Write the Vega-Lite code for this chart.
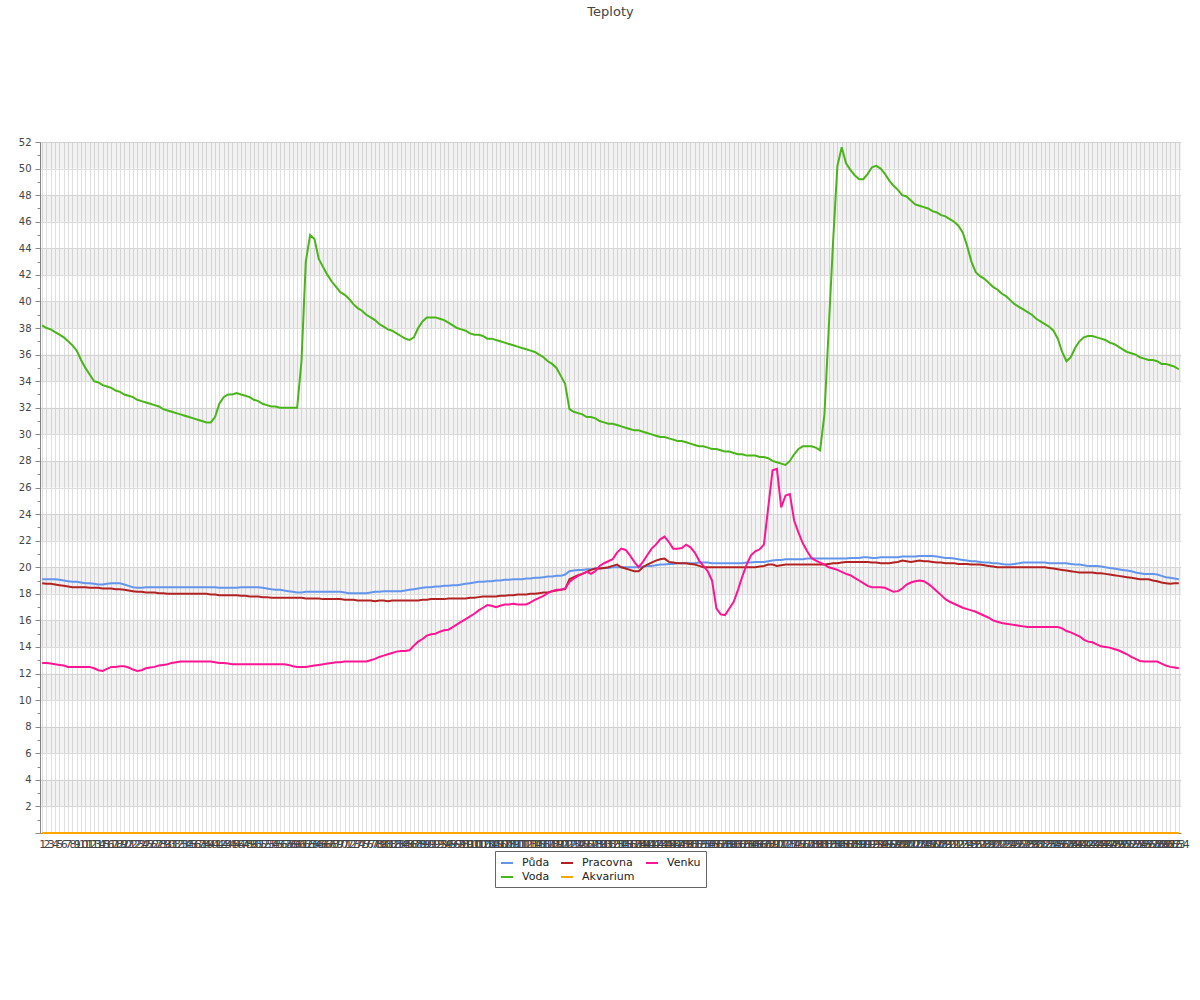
{
"$schema":"https://vega.github.io/schema/vega-lite/v6.json",
"width":1141,"height":691,
"autosize":{"type":"none"},
"padding":{"left":40,"top":142,"right":19,"bottom":167},
"background":"white",
"title":{"text":"Teploty","fontSize":13,"font":"DejaVu Sans","fontWeight":"normal","color":"#444444","offset":118,"anchor":"middle"},
"config":{"view":{"stroke":null},"font":"DejaVu Sans","axisY":{"labelOverlap":false},"axisX":{"labelOverlap":false}},
"datasets":{
"bands":[{"lo":2,"hi":4},{"lo":6,"hi":8},{"lo":10,"hi":12},{"lo":14,"hi":16},{"lo":18,"hi":20},{"lo":22,"hi":24},{"lo":26,"hi":28},{"lo":30,"hi":32},{"lo":34,"hi":36},{"lo":38,"hi":40},{"lo":42,"hi":44},{"lo":46,"hi":48},{"lo":50,"hi":52}],
"t":[
{"i":1,"Půda":19.1,"Voda":38.2,"Pracovna":18.8,"Venku":12.8,"Akvarium":0},
{"i":2,"Půda":19.1,"Voda":38.0,"Pracovna":18.75,"Venku":12.8,"Akvarium":0},
{"i":3,"Půda":19.1,"Voda":37.9,"Pracovna":18.75,"Venku":12.75,"Akvarium":0},
{"i":4,"Půda":19.1,"Voda":37.7,"Pracovna":18.7,"Venku":12.7,"Akvarium":0},
{"i":5,"Půda":19.05,"Voda":37.5,"Pracovna":18.65,"Venku":12.65,"Akvarium":0},
{"i":6,"Půda":19.0,"Voda":37.3,"Pracovna":18.6,"Venku":12.6,"Akvarium":0},
{"i":7,"Půda":18.95,"Voda":37.0,"Pracovna":18.55,"Venku":12.5,"Akvarium":0},
{"i":8,"Půda":18.9,"Voda":36.7,"Pracovna":18.5,"Venku":12.5,"Akvarium":0},
{"i":9,"Půda":18.9,"Voda":36.3,"Pracovna":18.5,"Venku":12.5,"Akvarium":0},
{"i":10,"Půda":18.85,"Voda":35.6,"Pracovna":18.5,"Venku":12.5,"Akvarium":0},
{"i":11,"Půda":18.8,"Voda":35.0,"Pracovna":18.5,"Venku":12.5,"Akvarium":0},
{"i":12,"Půda":18.8,"Voda":34.5,"Pracovna":18.45,"Venku":12.5,"Akvarium":0},
{"i":13,"Půda":18.75,"Voda":34.0,"Pracovna":18.45,"Venku":12.4,"Akvarium":0},
{"i":14,"Půda":18.7,"Voda":33.9,"Pracovna":18.45,"Venku":12.25,"Akvarium":0},
{"i":15,"Půda":18.7,"Voda":33.7,"Pracovna":18.4,"Venku":12.2,"Akvarium":0},
{"i":16,"Půda":18.75,"Voda":33.6,"Pracovna":18.4,"Venku":12.35,"Akvarium":0},
{"i":17,"Půda":18.8,"Voda":33.5,"Pracovna":18.4,"Venku":12.5,"Akvarium":0},
{"i":18,"Půda":18.8,"Voda":33.3,"Pracovna":18.35,"Venku":12.5,"Akvarium":0},
{"i":19,"Půda":18.8,"Voda":33.2,"Pracovna":18.35,"Venku":12.55,"Akvarium":0},
{"i":20,"Půda":18.7,"Voda":33.0,"Pracovna":18.3,"Venku":12.55,"Akvarium":0},
{"i":21,"Půda":18.6,"Voda":32.9,"Pracovna":18.25,"Venku":12.45,"Akvarium":0},
{"i":22,"Půda":18.5,"Voda":32.8,"Pracovna":18.2,"Venku":12.3,"Akvarium":0},
{"i":23,"Půda":18.45,"Voda":32.6,"Pracovna":18.15,"Venku":12.2,"Akvarium":0},
{"i":24,"Půda":18.45,"Voda":32.5,"Pracovna":18.15,"Venku":12.25,"Akvarium":0},
{"i":25,"Půda":18.5,"Voda":32.4,"Pracovna":18.1,"Venku":12.4,"Akvarium":0},
{"i":26,"Půda":18.5,"Voda":32.3,"Pracovna":18.1,"Venku":12.45,"Akvarium":0},
{"i":27,"Půda":18.5,"Voda":32.2,"Pracovna":18.1,"Venku":12.5,"Akvarium":0},
{"i":28,"Půda":18.5,"Voda":32.1,"Pracovna":18.05,"Venku":12.6,"Akvarium":0},
{"i":29,"Půda":18.5,"Voda":31.9,"Pracovna":18.05,"Venku":12.65,"Akvarium":0},
{"i":30,"Půda":18.5,"Voda":31.8,"Pracovna":18.0,"Venku":12.7,"Akvarium":0},
{"i":31,"Půda":18.5,"Voda":31.7,"Pracovna":18.0,"Venku":12.8,"Akvarium":0},
{"i":32,"Půda":18.5,"Voda":31.6,"Pracovna":18.0,"Venku":12.85,"Akvarium":0},
{"i":33,"Půda":18.5,"Voda":31.5,"Pracovna":18.0,"Venku":12.9,"Akvarium":0},
{"i":34,"Půda":18.5,"Voda":31.4,"Pracovna":18.0,"Venku":12.9,"Akvarium":0},
{"i":35,"Půda":18.5,"Voda":31.3,"Pracovna":18.0,"Venku":12.9,"Akvarium":0},
{"i":36,"Půda":18.5,"Voda":31.2,"Pracovna":18.0,"Venku":12.9,"Akvarium":0},
{"i":37,"Půda":18.5,"Voda":31.1,"Pracovna":18.0,"Venku":12.9,"Akvarium":0},
{"i":38,"Půda":18.5,"Voda":31.0,"Pracovna":18.0,"Venku":12.9,"Akvarium":0},
{"i":39,"Půda":18.5,"Voda":30.9,"Pracovna":18.0,"Venku":12.9,"Akvarium":0},
{"i":40,"Půda":18.5,"Voda":30.9,"Pracovna":17.95,"Venku":12.9,"Akvarium":0},
{"i":41,"Půda":18.5,"Voda":31.3,"Pracovna":17.95,"Venku":12.85,"Akvarium":0},
{"i":42,"Půda":18.45,"Voda":32.3,"Pracovna":17.9,"Venku":12.8,"Akvarium":0},
{"i":43,"Půda":18.45,"Voda":32.8,"Pracovna":17.9,"Venku":12.8,"Akvarium":0},
{"i":44,"Půda":18.45,"Voda":33.0,"Pracovna":17.9,"Venku":12.75,"Akvarium":0},
{"i":45,"Půda":18.45,"Voda":33.0,"Pracovna":17.9,"Venku":12.7,"Akvarium":0},
{"i":46,"Půda":18.45,"Voda":33.1,"Pracovna":17.9,"Venku":12.7,"Akvarium":0},
{"i":47,"Půda":18.5,"Voda":33.0,"Pracovna":17.85,"Venku":12.7,"Akvarium":0},
{"i":48,"Půda":18.5,"Voda":32.9,"Pracovna":17.85,"Venku":12.7,"Akvarium":0},
{"i":49,"Půda":18.5,"Voda":32.8,"Pracovna":17.8,"Venku":12.7,"Akvarium":0},
{"i":50,"Půda":18.5,"Voda":32.6,"Pracovna":17.8,"Venku":12.7,"Akvarium":0},
{"i":51,"Půda":18.5,"Voda":32.5,"Pracovna":17.8,"Venku":12.7,"Akvarium":0},
{"i":52,"Půda":18.45,"Voda":32.3,"Pracovna":17.75,"Venku":12.7,"Akvarium":0},
{"i":53,"Půda":18.4,"Voda":32.2,"Pracovna":17.75,"Venku":12.7,"Akvarium":0},
{"i":54,"Půda":18.35,"Voda":32.1,"Pracovna":17.7,"Venku":12.7,"Akvarium":0},
{"i":55,"Půda":18.3,"Voda":32.1,"Pracovna":17.7,"Venku":12.7,"Akvarium":0},
{"i":56,"Půda":18.3,"Voda":32.0,"Pracovna":17.7,"Venku":12.7,"Akvarium":0},
{"i":57,"Půda":18.25,"Voda":32.0,"Pracovna":17.7,"Venku":12.7,"Akvarium":0},
{"i":58,"Půda":18.2,"Voda":32.0,"Pracovna":17.7,"Venku":12.65,"Akvarium":0},
{"i":59,"Půda":18.15,"Voda":32.0,"Pracovna":17.7,"Venku":12.55,"Akvarium":0},
{"i":60,"Půda":18.1,"Voda":32.0,"Pracovna":17.7,"Venku":12.5,"Akvarium":0},
{"i":61,"Půda":18.1,"Voda":35.5,"Pracovna":17.7,"Venku":12.5,"Akvarium":0},
{"i":62,"Půda":18.15,"Voda":43.0,"Pracovna":17.65,"Venku":12.5,"Akvarium":0},
{"i":63,"Půda":18.15,"Voda":45.0,"Pracovna":17.65,"Venku":12.55,"Akvarium":0},
{"i":64,"Půda":18.15,"Voda":44.7,"Pracovna":17.65,"Venku":12.6,"Akvarium":0},
{"i":65,"Půda":18.15,"Voda":43.2,"Pracovna":17.65,"Venku":12.65,"Akvarium":0},
{"i":66,"Půda":18.15,"Voda":42.6,"Pracovna":17.6,"Venku":12.7,"Akvarium":0},
{"i":67,"Půda":18.15,"Voda":42.0,"Pracovna":17.6,"Venku":12.75,"Akvarium":0},
{"i":68,"Půda":18.15,"Voda":41.5,"Pracovna":17.6,"Venku":12.8,"Akvarium":0},
{"i":69,"Půda":18.15,"Voda":41.1,"Pracovna":17.6,"Venku":12.85,"Akvarium":0},
{"i":70,"Půda":18.15,"Voda":40.7,"Pracovna":17.6,"Venku":12.85,"Akvarium":0},
{"i":71,"Půda":18.1,"Voda":40.5,"Pracovna":17.55,"Venku":12.9,"Akvarium":0},
{"i":72,"Půda":18.05,"Voda":40.2,"Pracovna":17.55,"Venku":12.9,"Akvarium":0},
{"i":73,"Půda":18.05,"Voda":39.8,"Pracovna":17.55,"Venku":12.9,"Akvarium":0},
{"i":74,"Půda":18.05,"Voda":39.5,"Pracovna":17.5,"Venku":12.9,"Akvarium":0},
{"i":75,"Půda":18.05,"Voda":39.3,"Pracovna":17.5,"Venku":12.9,"Akvarium":0},
{"i":76,"Půda":18.05,"Voda":39.0,"Pracovna":17.5,"Venku":12.9,"Akvarium":0},
{"i":77,"Půda":18.1,"Voda":38.8,"Pracovna":17.5,"Venku":13.0,"Akvarium":0},
{"i":78,"Půda":18.15,"Voda":38.6,"Pracovna":17.45,"Venku":13.1,"Akvarium":0},
{"i":79,"Půda":18.15,"Voda":38.3,"Pracovna":17.5,"Venku":13.25,"Akvarium":0},
{"i":80,"Půda":18.2,"Voda":38.1,"Pracovna":17.5,"Venku":13.35,"Akvarium":0},
{"i":81,"Půda":18.2,"Voda":37.9,"Pracovna":17.45,"Venku":13.45,"Akvarium":0},
{"i":82,"Půda":18.2,"Voda":37.8,"Pracovna":17.5,"Venku":13.55,"Akvarium":0},
{"i":83,"Půda":18.2,"Voda":37.6,"Pracovna":17.5,"Venku":13.65,"Akvarium":0},
{"i":84,"Půda":18.2,"Voda":37.4,"Pracovna":17.5,"Venku":13.7,"Akvarium":0},
{"i":85,"Půda":18.25,"Voda":37.2,"Pracovna":17.5,"Venku":13.7,"Akvarium":0},
{"i":86,"Půda":18.3,"Voda":37.1,"Pracovna":17.5,"Venku":13.75,"Akvarium":0},
{"i":87,"Půda":18.35,"Voda":37.3,"Pracovna":17.5,"Venku":14.1,"Akvarium":0},
{"i":88,"Půda":18.4,"Voda":38.0,"Pracovna":17.5,"Venku":14.4,"Akvarium":0},
{"i":89,"Půda":18.45,"Voda":38.5,"Pracovna":17.55,"Venku":14.6,"Akvarium":0},
{"i":90,"Půda":18.5,"Voda":38.8,"Pracovna":17.55,"Venku":14.85,"Akvarium":0},
{"i":91,"Půda":18.5,"Voda":38.8,"Pracovna":17.6,"Venku":14.95,"Akvarium":0},
{"i":92,"Půda":18.55,"Voda":38.8,"Pracovna":17.6,"Venku":15.0,"Akvarium":0},
{"i":93,"Půda":18.55,"Voda":38.7,"Pracovna":17.6,"Venku":15.15,"Akvarium":0},
{"i":94,"Půda":18.6,"Voda":38.6,"Pracovna":17.6,"Venku":15.25,"Akvarium":0},
{"i":95,"Půda":18.6,"Voda":38.4,"Pracovna":17.65,"Venku":15.3,"Akvarium":0},
{"i":96,"Půda":18.65,"Voda":38.2,"Pracovna":17.65,"Venku":15.5,"Akvarium":0},
{"i":97,"Půda":18.65,"Voda":38.0,"Pracovna":17.65,"Venku":15.7,"Akvarium":0},
{"i":98,"Půda":18.7,"Voda":37.9,"Pracovna":17.65,"Venku":15.9,"Akvarium":0},
{"i":99,"Půda":18.75,"Voda":37.8,"Pracovna":17.65,"Venku":16.1,"Akvarium":0},
{"i":100,"Půda":18.8,"Voda":37.6,"Pracovna":17.7,"Venku":16.3,"Akvarium":0},
{"i":101,"Půda":18.85,"Voda":37.5,"Pracovna":17.7,"Venku":16.5,"Akvarium":0},
{"i":102,"Půda":18.9,"Voda":37.5,"Pracovna":17.75,"Venku":16.75,"Akvarium":0},
{"i":103,"Půda":18.9,"Voda":37.4,"Pracovna":17.8,"Venku":16.95,"Akvarium":0},
{"i":104,"Půda":18.95,"Voda":37.2,"Pracovna":17.8,"Venku":17.15,"Akvarium":0},
{"i":105,"Půda":18.95,"Voda":37.2,"Pracovna":17.8,"Venku":17.1,"Akvarium":0},
{"i":106,"Půda":19.0,"Voda":37.1,"Pracovna":17.8,"Venku":17.0,"Akvarium":0},
{"i":107,"Půda":19.0,"Voda":37.0,"Pracovna":17.85,"Venku":17.1,"Akvarium":0},
{"i":108,"Půda":19.05,"Voda":36.9,"Pracovna":17.85,"Venku":17.2,"Akvarium":0},
{"i":109,"Půda":19.05,"Voda":36.8,"Pracovna":17.9,"Venku":17.2,"Akvarium":0},
{"i":110,"Půda":19.1,"Voda":36.7,"Pracovna":17.9,"Venku":17.25,"Akvarium":0},
{"i":111,"Půda":19.1,"Voda":36.6,"Pracovna":17.95,"Venku":17.2,"Akvarium":0},
{"i":112,"Půda":19.1,"Voda":36.5,"Pracovna":17.95,"Venku":17.2,"Akvarium":0},
{"i":113,"Půda":19.15,"Voda":36.4,"Pracovna":17.95,"Venku":17.2,"Akvarium":0},
{"i":114,"Půda":19.15,"Voda":36.3,"Pracovna":18.0,"Venku":17.35,"Akvarium":0},
{"i":115,"Půda":19.2,"Voda":36.2,"Pracovna":18.0,"Venku":17.55,"Akvarium":0},
{"i":116,"Půda":19.2,"Voda":36.0,"Pracovna":18.05,"Venku":17.7,"Akvarium":0},
{"i":117,"Půda":19.25,"Voda":35.8,"Pracovna":18.1,"Venku":17.85,"Akvarium":0},
{"i":118,"Půda":19.3,"Voda":35.5,"Pracovna":18.1,"Venku":18.05,"Akvarium":0},
{"i":119,"Půda":19.3,"Voda":35.3,"Pracovna":18.2,"Venku":18.2,"Akvarium":0},
{"i":120,"Půda":19.35,"Voda":35.0,"Pracovna":18.25,"Venku":18.3,"Akvarium":0},
{"i":121,"Půda":19.35,"Voda":34.4,"Pracovna":18.3,"Venku":18.3,"Akvarium":0},
{"i":122,"Půda":19.45,"Voda":33.8,"Pracovna":18.35,"Venku":18.4,"Akvarium":0},
{"i":123,"Půda":19.7,"Voda":31.9,"Pracovna":19.1,"Venku":18.9,"Akvarium":0},
{"i":124,"Půda":19.75,"Voda":31.7,"Pracovna":19.25,"Venku":19.15,"Akvarium":0},
{"i":125,"Půda":19.8,"Voda":31.6,"Pracovna":19.4,"Venku":19.35,"Akvarium":0},
{"i":126,"Půda":19.8,"Voda":31.5,"Pracovna":19.5,"Venku":19.5,"Akvarium":0},
{"i":127,"Půda":19.85,"Voda":31.3,"Pracovna":19.65,"Venku":19.65,"Akvarium":0},
{"i":128,"Půda":19.85,"Voda":31.3,"Pracovna":19.8,"Venku":19.5,"Akvarium":0},
{"i":129,"Půda":19.9,"Voda":31.2,"Pracovna":19.9,"Venku":19.7,"Akvarium":0},
{"i":130,"Půda":19.9,"Voda":31.0,"Pracovna":19.9,"Venku":20.1,"Akvarium":0},
{"i":131,"Půda":19.95,"Voda":30.9,"Pracovna":19.95,"Venku":20.3,"Akvarium":0},
{"i":132,"Půda":19.95,"Voda":30.8,"Pracovna":20.0,"Venku":20.45,"Akvarium":0},
{"i":133,"Půda":20.0,"Voda":30.8,"Pracovna":20.1,"Venku":20.6,"Akvarium":0},
{"i":134,"Půda":20.0,"Voda":30.7,"Pracovna":20.2,"Venku":21.1,"Akvarium":0},
{"i":135,"Půda":20.0,"Voda":30.6,"Pracovna":20.0,"Venku":21.4,"Akvarium":0},
{"i":136,"Půda":20.0,"Voda":30.5,"Pracovna":19.9,"Venku":21.3,"Akvarium":0},
{"i":137,"Půda":20.0,"Voda":30.4,"Pracovna":19.8,"Venku":20.9,"Akvarium":0},
{"i":138,"Půda":20.0,"Voda":30.3,"Pracovna":19.7,"Venku":20.4,"Akvarium":0},
{"i":139,"Půda":20.0,"Voda":30.3,"Pracovna":19.7,"Venku":20.0,"Akvarium":0},
{"i":140,"Půda":20.05,"Voda":30.2,"Pracovna":20.0,"Venku":20.4,"Akvarium":0},
{"i":141,"Půda":20.1,"Voda":30.1,"Pracovna":20.2,"Venku":20.9,"Akvarium":0},
{"i":142,"Půda":20.1,"Voda":30.0,"Pracovna":20.35,"Venku":21.4,"Akvarium":0},
{"i":143,"Půda":20.15,"Voda":29.9,"Pracovna":20.5,"Venku":21.7,"Akvarium":0},
{"i":144,"Půda":20.2,"Voda":29.8,"Pracovna":20.6,"Venku":22.1,"Akvarium":0},
{"i":145,"Půda":20.2,"Voda":29.8,"Pracovna":20.65,"Venku":22.3,"Akvarium":0},
{"i":146,"Půda":20.25,"Voda":29.7,"Pracovna":20.4,"Venku":21.9,"Akvarium":0},
{"i":147,"Půda":20.25,"Voda":29.6,"Pracovna":20.35,"Venku":21.4,"Akvarium":0},
{"i":148,"Půda":20.3,"Voda":29.5,"Pracovna":20.3,"Venku":21.4,"Akvarium":0},
{"i":149,"Půda":20.3,"Voda":29.5,"Pracovna":20.3,"Venku":21.45,"Akvarium":0},
{"i":150,"Půda":20.3,"Voda":29.4,"Pracovna":20.3,"Venku":21.7,"Akvarium":0},
{"i":151,"Půda":20.3,"Voda":29.3,"Pracovna":20.25,"Venku":21.5,"Akvarium":0},
{"i":152,"Půda":20.3,"Voda":29.2,"Pracovna":20.2,"Venku":21.1,"Akvarium":0},
{"i":153,"Půda":20.35,"Voda":29.1,"Pracovna":20.1,"Venku":20.5,"Akvarium":0},
{"i":154,"Půda":20.35,"Voda":29.1,"Pracovna":20.0,"Venku":20.1,"Akvarium":0},
{"i":155,"Půda":20.35,"Voda":29.0,"Pracovna":20.0,"Venku":19.7,"Akvarium":0},
{"i":156,"Půda":20.3,"Voda":28.9,"Pracovna":20.0,"Venku":19.0,"Akvarium":0},
{"i":157,"Půda":20.3,"Voda":28.9,"Pracovna":20.0,"Venku":16.9,"Akvarium":0},
{"i":158,"Půda":20.3,"Voda":28.8,"Pracovna":20.0,"Venku":16.45,"Akvarium":0},
{"i":159,"Půda":20.3,"Voda":28.7,"Pracovna":20.0,"Venku":16.4,"Akvarium":0},
{"i":160,"Půda":20.3,"Voda":28.7,"Pracovna":20.0,"Venku":16.9,"Akvarium":0},
{"i":161,"Půda":20.3,"Voda":28.6,"Pracovna":20.0,"Venku":17.4,"Akvarium":0},
{"i":162,"Půda":20.3,"Voda":28.5,"Pracovna":20.0,"Venku":18.3,"Akvarium":0},
{"i":163,"Půda":20.3,"Voda":28.5,"Pracovna":20.0,"Venku":19.3,"Akvarium":0},
{"i":164,"Půda":20.35,"Voda":28.4,"Pracovna":20.0,"Venku":20.2,"Akvarium":0},
{"i":165,"Půda":20.35,"Voda":28.4,"Pracovna":20.0,"Venku":20.9,"Akvarium":0},
{"i":166,"Půda":20.4,"Voda":28.4,"Pracovna":20.0,"Venku":21.2,"Akvarium":0},
{"i":167,"Půda":20.4,"Voda":28.3,"Pracovna":20.05,"Venku":21.35,"Akvarium":0},
{"i":168,"Půda":20.4,"Voda":28.3,"Pracovna":20.1,"Venku":21.7,"Akvarium":0},
{"i":169,"Půda":20.45,"Voda":28.2,"Pracovna":20.2,"Venku":24.5,"Akvarium":0},
{"i":170,"Půda":20.5,"Voda":28.0,"Pracovna":20.2,"Venku":27.3,"Akvarium":0},
{"i":171,"Půda":20.55,"Voda":27.9,"Pracovna":20.1,"Venku":27.4,"Akvarium":0},
{"i":172,"Půda":20.55,"Voda":27.8,"Pracovna":20.15,"Venku":24.5,"Akvarium":0},
{"i":173,"Půda":20.6,"Voda":27.7,"Pracovna":20.2,"Venku":25.4,"Akvarium":0},
{"i":174,"Půda":20.6,"Voda":28.0,"Pracovna":20.2,"Venku":25.5,"Akvarium":0},
{"i":175,"Půda":20.6,"Voda":28.5,"Pracovna":20.2,"Venku":23.5,"Akvarium":0},
{"i":176,"Půda":20.6,"Voda":28.9,"Pracovna":20.2,"Venku":22.6,"Akvarium":0},
{"i":177,"Půda":20.6,"Voda":29.1,"Pracovna":20.2,"Venku":21.8,"Akvarium":0},
{"i":178,"Půda":20.65,"Voda":29.1,"Pracovna":20.2,"Venku":21.2,"Akvarium":0},
{"i":179,"Půda":20.65,"Voda":29.1,"Pracovna":20.2,"Venku":20.7,"Akvarium":0},
{"i":180,"Půda":20.65,"Voda":29.0,"Pracovna":20.2,"Venku":20.5,"Akvarium":0},
{"i":181,"Půda":20.65,"Voda":28.8,"Pracovna":20.2,"Venku":20.35,"Akvarium":0},
{"i":182,"Půda":20.65,"Voda":31.5,"Pracovna":20.2,"Venku":20.2,"Akvarium":0},
{"i":183,"Půda":20.65,"Voda":38.0,"Pracovna":20.25,"Venku":20.0,"Akvarium":0},
{"i":184,"Půda":20.65,"Voda":44.5,"Pracovna":20.3,"Venku":19.9,"Akvarium":0},
{"i":185,"Půda":20.65,"Voda":50.2,"Pracovna":20.3,"Venku":19.8,"Akvarium":0},
{"i":186,"Půda":20.65,"Voda":51.6,"Pracovna":20.35,"Venku":19.65,"Akvarium":0},
{"i":187,"Půda":20.65,"Voda":50.4,"Pracovna":20.4,"Venku":19.5,"Akvarium":0},
{"i":188,"Půda":20.7,"Voda":49.9,"Pracovna":20.4,"Venku":19.4,"Akvarium":0},
{"i":189,"Půda":20.7,"Voda":49.5,"Pracovna":20.4,"Venku":19.2,"Akvarium":0},
{"i":190,"Půda":20.7,"Voda":49.2,"Pracovna":20.4,"Venku":19.0,"Akvarium":0},
{"i":191,"Půda":20.75,"Voda":49.2,"Pracovna":20.4,"Venku":18.8,"Akvarium":0},
{"i":192,"Půda":20.75,"Voda":49.6,"Pracovna":20.4,"Venku":18.6,"Akvarium":0},
{"i":193,"Půda":20.7,"Voda":50.1,"Pracovna":20.35,"Venku":18.5,"Akvarium":0},
{"i":194,"Půda":20.7,"Voda":50.2,"Pracovna":20.35,"Venku":18.5,"Akvarium":0},
{"i":195,"Půda":20.75,"Voda":50.0,"Pracovna":20.3,"Venku":18.5,"Akvarium":0},
{"i":196,"Půda":20.75,"Voda":49.6,"Pracovna":20.3,"Venku":18.45,"Akvarium":0},
{"i":197,"Půda":20.75,"Voda":49.1,"Pracovna":20.3,"Venku":18.3,"Akvarium":0},
{"i":198,"Půda":20.75,"Voda":48.7,"Pracovna":20.35,"Venku":18.15,"Akvarium":0},
{"i":199,"Půda":20.75,"Voda":48.4,"Pracovna":20.4,"Venku":18.2,"Akvarium":0},
{"i":200,"Půda":20.8,"Voda":48.0,"Pracovna":20.5,"Venku":18.4,"Akvarium":0},
{"i":201,"Půda":20.8,"Voda":47.9,"Pracovna":20.45,"Venku":18.7,"Akvarium":0},
{"i":202,"Půda":20.8,"Voda":47.6,"Pracovna":20.4,"Venku":18.85,"Akvarium":0},
{"i":203,"Půda":20.8,"Voda":47.3,"Pracovna":20.45,"Venku":18.95,"Akvarium":0},
{"i":204,"Půda":20.85,"Voda":47.2,"Pracovna":20.5,"Venku":19.0,"Akvarium":0},
{"i":205,"Půda":20.85,"Voda":47.1,"Pracovna":20.45,"Venku":18.95,"Akvarium":0},
{"i":206,"Půda":20.85,"Voda":47.0,"Pracovna":20.45,"Venku":18.75,"Akvarium":0},
{"i":207,"Půda":20.85,"Voda":46.8,"Pracovna":20.4,"Venku":18.5,"Akvarium":0},
{"i":208,"Půda":20.8,"Voda":46.7,"Pracovna":20.35,"Venku":18.2,"Akvarium":0},
{"i":209,"Půda":20.75,"Voda":46.5,"Pracovna":20.35,"Venku":17.9,"Akvarium":0},
{"i":210,"Půda":20.7,"Voda":46.4,"Pracovna":20.3,"Venku":17.6,"Akvarium":0},
{"i":211,"Půda":20.7,"Voda":46.2,"Pracovna":20.3,"Venku":17.4,"Akvarium":0},
{"i":212,"Půda":20.65,"Voda":46.0,"Pracovna":20.3,"Venku":17.25,"Akvarium":0},
{"i":213,"Půda":20.6,"Voda":45.7,"Pracovna":20.25,"Venku":17.1,"Akvarium":0},
{"i":214,"Půda":20.55,"Voda":45.2,"Pracovna":20.25,"Venku":16.95,"Akvarium":0},
{"i":215,"Půda":20.5,"Voda":44.2,"Pracovna":20.25,"Venku":16.85,"Akvarium":0},
{"i":216,"Půda":20.45,"Voda":43.0,"Pracovna":20.2,"Venku":16.75,"Akvarium":0},
{"i":217,"Půda":20.45,"Voda":42.2,"Pracovna":20.2,"Venku":16.65,"Akvarium":0},
{"i":218,"Půda":20.4,"Voda":41.9,"Pracovna":20.2,"Venku":16.5,"Akvarium":0},
{"i":219,"Půda":20.35,"Voda":41.7,"Pracovna":20.15,"Venku":16.35,"Akvarium":0},
{"i":220,"Půda":20.35,"Voda":41.4,"Pracovna":20.1,"Venku":16.2,"Akvarium":0},
{"i":221,"Půda":20.3,"Voda":41.1,"Pracovna":20.05,"Venku":16.0,"Akvarium":0},
{"i":222,"Půda":20.3,"Voda":40.9,"Pracovna":20.0,"Venku":15.9,"Akvarium":0},
{"i":223,"Půda":20.25,"Voda":40.6,"Pracovna":20.0,"Venku":15.8,"Akvarium":0},
{"i":224,"Půda":20.2,"Voda":40.4,"Pracovna":20.0,"Venku":15.75,"Akvarium":0},
{"i":225,"Půda":20.2,"Voda":40.1,"Pracovna":20.0,"Venku":15.7,"Akvarium":0},
{"i":226,"Půda":20.25,"Voda":39.8,"Pracovna":20.0,"Venku":15.65,"Akvarium":0},
{"i":227,"Půda":20.3,"Voda":39.6,"Pracovna":20.0,"Venku":15.6,"Akvarium":0},
{"i":228,"Půda":20.35,"Voda":39.4,"Pracovna":20.0,"Venku":15.55,"Akvarium":0},
{"i":229,"Půda":20.35,"Voda":39.2,"Pracovna":20.0,"Venku":15.5,"Akvarium":0},
{"i":230,"Půda":20.35,"Voda":39.0,"Pracovna":20.0,"Venku":15.5,"Akvarium":0},
{"i":231,"Půda":20.35,"Voda":38.7,"Pracovna":20.0,"Venku":15.5,"Akvarium":0},
{"i":232,"Půda":20.35,"Voda":38.5,"Pracovna":20.0,"Venku":15.5,"Akvarium":0},
{"i":233,"Půda":20.35,"Voda":38.3,"Pracovna":20.0,"Venku":15.5,"Akvarium":0},
{"i":234,"Půda":20.3,"Voda":38.1,"Pracovna":19.95,"Venku":15.5,"Akvarium":0},
{"i":235,"Půda":20.3,"Voda":37.8,"Pracovna":19.9,"Venku":15.5,"Akvarium":0},
{"i":236,"Půda":20.3,"Voda":37.2,"Pracovna":19.85,"Venku":15.5,"Akvarium":0},
{"i":237,"Půda":20.3,"Voda":36.2,"Pracovna":19.8,"Venku":15.4,"Akvarium":0},
{"i":238,"Půda":20.3,"Voda":35.5,"Pracovna":19.75,"Venku":15.2,"Akvarium":0},
{"i":239,"Půda":20.25,"Voda":35.8,"Pracovna":19.7,"Venku":15.1,"Akvarium":0},
{"i":240,"Půda":20.2,"Voda":36.5,"Pracovna":19.65,"Venku":14.95,"Akvarium":0},
{"i":241,"Půda":20.2,"Voda":37.0,"Pracovna":19.6,"Venku":14.8,"Akvarium":0},
{"i":242,"Půda":20.15,"Voda":37.3,"Pracovna":19.6,"Venku":14.55,"Akvarium":0},
{"i":243,"Půda":20.1,"Voda":37.4,"Pracovna":19.6,"Venku":14.4,"Akvarium":0},
{"i":244,"Půda":20.1,"Voda":37.4,"Pracovna":19.6,"Venku":14.35,"Akvarium":0},
{"i":245,"Půda":20.1,"Voda":37.3,"Pracovna":19.55,"Venku":14.2,"Akvarium":0},
{"i":246,"Půda":20.05,"Voda":37.2,"Pracovna":19.55,"Venku":14.05,"Akvarium":0},
{"i":247,"Půda":20.0,"Voda":37.1,"Pracovna":19.5,"Venku":14.0,"Akvarium":0},
{"i":248,"Půda":19.95,"Voda":36.9,"Pracovna":19.45,"Venku":13.95,"Akvarium":0},
{"i":249,"Půda":19.9,"Voda":36.8,"Pracovna":19.4,"Venku":13.85,"Akvarium":0},
{"i":250,"Půda":19.85,"Voda":36.6,"Pracovna":19.35,"Venku":13.75,"Akvarium":0},
{"i":251,"Půda":19.8,"Voda":36.4,"Pracovna":19.3,"Venku":13.6,"Akvarium":0},
{"i":252,"Půda":19.75,"Voda":36.2,"Pracovna":19.25,"Venku":13.45,"Akvarium":0},
{"i":253,"Půda":19.7,"Voda":36.1,"Pracovna":19.2,"Venku":13.25,"Akvarium":0},
{"i":254,"Půda":19.6,"Voda":36.0,"Pracovna":19.15,"Venku":13.1,"Akvarium":0},
{"i":255,"Půda":19.55,"Voda":35.8,"Pracovna":19.1,"Venku":12.95,"Akvarium":0},
{"i":256,"Půda":19.5,"Voda":35.7,"Pracovna":19.1,"Venku":12.9,"Akvarium":0},
{"i":257,"Půda":19.5,"Voda":35.6,"Pracovna":19.1,"Venku":12.9,"Akvarium":0},
{"i":258,"Půda":19.5,"Voda":35.6,"Pracovna":19.0,"Venku":12.9,"Akvarium":0},
{"i":259,"Půda":19.45,"Voda":35.5,"Pracovna":18.95,"Venku":12.9,"Akvarium":0},
{"i":260,"Půda":19.35,"Voda":35.3,"Pracovna":18.85,"Venku":12.75,"Akvarium":0},
{"i":261,"Půda":19.25,"Voda":35.3,"Pracovna":18.8,"Venku":12.6,"Akvarium":0},
{"i":262,"Půda":19.2,"Voda":35.2,"Pracovna":18.75,"Venku":12.5,"Akvarium":0},
{"i":263,"Půda":19.15,"Voda":35.1,"Pracovna":18.8,"Venku":12.45,"Akvarium":0},
{"i":264,"Půda":19.1,"Voda":34.9,"Pracovna":18.8,"Venku":12.4,"Akvarium":0}
]},
"layer":[
{"data":{"name":"bands"},
 "mark":{"type":"rect","fill":"#000000","opacity":0.05},
 "encoding":{"y":{"field":"lo","type":"quantitative","scale":{"domain":[0,52],"nice":false},
   "axis":{"title":null,"values":[0,1,2,3,4,5,6,7,8,9,10,11,12,13,14,15,16,17,18,19,20,21,22,23,24,25,26,27,28,29,30,31,32,33,34,35,36,37,38,39,40,41,42,43,44,45,46,47,48,49,50,51,52],
    "labelExpr":"datum.value % 2 == 0 && datum.value > 0 ? datum.label : ''",
    "labelOverlap":false,
    "labelFontSize":10,"labelColor":"#444444","labelPadding":4,
    "tickSize":{"condition":{"test":"datum.value % 2 == 0","value":5},"value":3},
    "tickColor":"#888888","domainColor":"#888888",
    "grid":true,"gridColor":"#dddddd",
    "gridOpacity":{"condition":{"test":"datum.value % 2 == 0","value":1},"value":0}}},
  "y2":{"field":"hi"}}},
{"data":{"name":"t"},
 "transform":[{"fold":["Půda","Voda","Pracovna","Akvarium","Venku"],"as":["serie","teplota"]}],
 "mark":{"type":"line","strokeWidth":2,"clip":false},
 "encoding":{
  "x":{"field":"i","type":"ordinal","sort":"ascending","scale":{"type":"point","padding":0.5},
   "axis":{"title":null,"labelAngle":0,"labelOverlap":false,"labelFontSize":11,"labelColor":"#444444","labelPadding":5,"ticks":false,"domainColor":"#888888","grid":true,"gridColor":"#e0e0e0","labelBound":false,"labelFlush":false}},
  "y":{"field":"teplota","type":"quantitative","scale":{"domain":[0,52],"nice":false},
   "axis":{"title":null,"values":[0,1,2,3,4,5,6,7,8,9,10,11,12,13,14,15,16,17,18,19,20,21,22,23,24,25,26,27,28,29,30,31,32,33,34,35,36,37,38,39,40,41,42,43,44,45,46,47,48,49,50,51,52],
    "labelExpr":"datum.value % 2 == 0 && datum.value > 0 ? datum.label : ''",
    "labelOverlap":false,
    "labelFontSize":10,"labelColor":"#444444","labelPadding":4,
    "tickSize":{"condition":{"test":"datum.value % 2 == 0","value":5},"value":3},
    "tickColor":"#888888","domainColor":"#888888",
    "grid":true,"gridColor":"#dddddd",
    "gridOpacity":{"condition":{"test":"datum.value % 2 == 0","value":1},"value":0}}},
  "color":{"field":"serie","type":"nominal",
   "scale":{"domain":["Půda","Pracovna","Venku","Voda","Akvarium"],"range":["#6495ed","#b22222","#ff1493","#4ab519","#ffa500"]},
   "legend":{"title":null,"orient":"none","legendX":455,"legendY":709,"columns":3,"direction":"horizontal",
    "symbolType":"stroke","symbolStrokeWidth":2,"symbolSize":144,"labelFontSize":11,"labelColor":"#222222",
    "labelOffset":8,"columnPadding":7,"rowPadding":2,"padding":5,"strokeColor":"#666666","fillColor":"#ffffff"}}
 }}
]
}
